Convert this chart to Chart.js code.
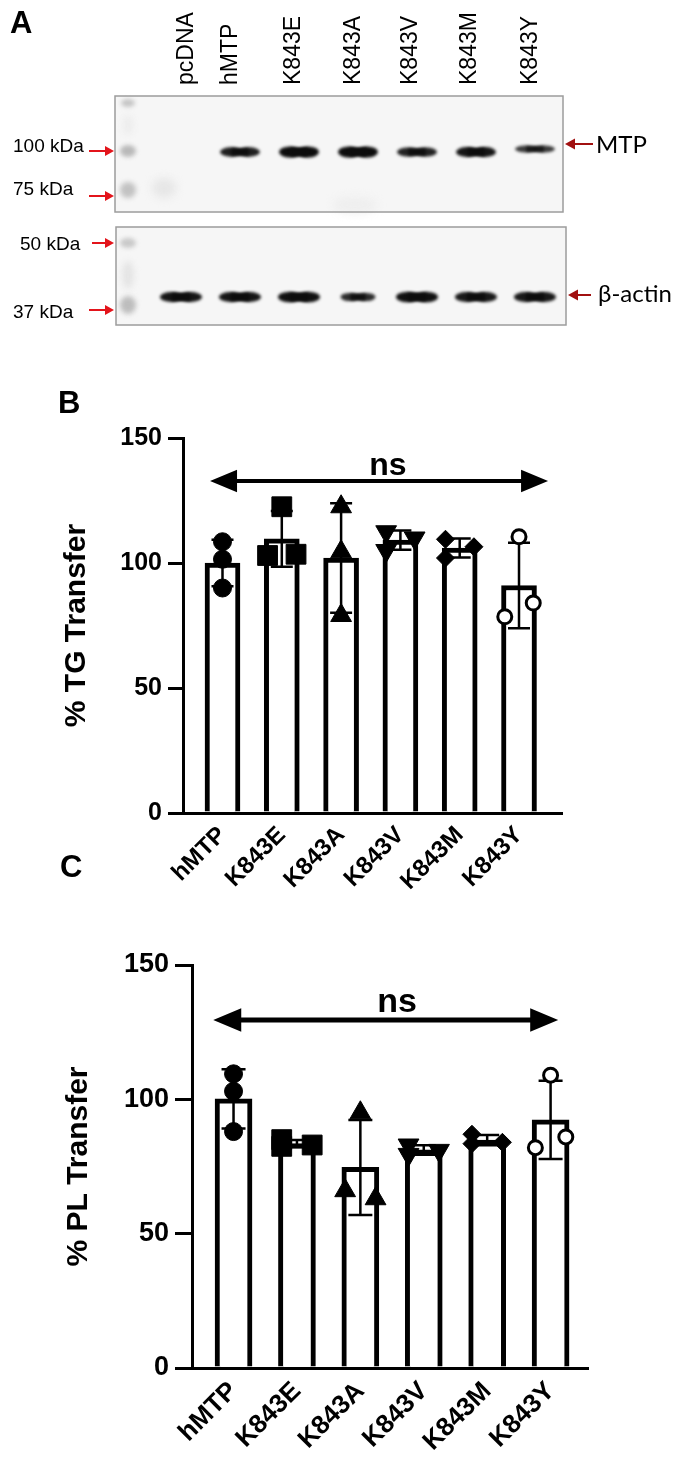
<!DOCTYPE html>
<html>
<head>
<meta charset="utf-8">
<script src="https://cdn.jsdelivr.net/npm/chart.js@4.4.1/dist/chart.umd.min.js"></script>
<style>
  body { margin: 0; background: #fff; }
  #page { position: relative; width: 680px; height: 1478px; overflow: hidden; font-family: "Liberation Sans", Arial, sans-serif; }
  canvas { position: absolute; left: 0; }
  .letter { position: absolute; font-weight: bold; font-size: 31px; line-height: 1; }
</style>
</head>
<body>
<div id="page">
  <canvas id="blot" width="680" height="370" style="top:0"></canvas>
  <canvas id="chartB" width="680" height="540" style="top:380px"></canvas>
  <canvas id="chartC" width="680" height="638" style="top:840px"></canvas>
  <div class="letter" style="left:10px;top:7px">A</div>
  <div class="letter" style="left:58px;top:387px">B</div>
  <div class="letter" style="left:60px;top:851px">C</div>
</div>
<script>
// ---- data ----
const groups = ['hMTP', 'K843E', 'K843A', 'K843V', 'K843M', 'K843Y'];
// % TG transfer, three replicates per construct
const tgTransfer = [
  [108.5, 101.5, 90],
  [122.5, 103, 103.5],
  [122.5, 104.5, 79],
  [112.5, 110, 105],
  [109.5, 106.5, 102],
  [110.5, 78.5, 84]
];
// % PL transfer, three replicates per construct
const plTransfer = [
  [109.5, 103, 88],
  [85, 83, 82.5],
  [95, 66, 63],
  [83, 81, 79.5],
  [87, 84, 83.5],
  [109, 82, 86]
];
const yTicks = [0, 50, 100, 150];

// western blot lanes and relative band strength
const lanes = ['pcDNA', 'hMTP', 'K843E', 'K843A', 'K843V', 'K843M', 'K843Y'];
const mtpSignal = [0, 0.8, 1, 1, 0.75, 0.9, 0.5];
const actinSignal = [0.9, 0.9, 0.95, 0.65, 0.95, 0.85, 0.85];
const markers = ['100 kDa', '75 kDa', '50 kDa', '37 kDa'];

// ---- panel A: the blot ----
const g = document.getElementById('blot').getContext('2d');

function laneX(i) { return 181 + i * 59; }

function smudge(x, y, rx, ry, color, blur) {
  g.save();
  g.filter = 'blur(' + blur + 'px)';
  g.fillStyle = color;
  g.beginPath();
  g.ellipse(x, y, rx, ry, 0, 0, Math.PI * 2);
  g.fill();
  g.restore();
}

function band(cx, cy, w, s) {
  if (s <= 0) return;
  const h = 3 + 8 * s;
  g.save();
  g.filter = 'blur(1.4px)';
  g.fillStyle = 'rgba(12,12,12,' + (0.6 + 0.4 * s) + ')';
  g.beginPath();
  g.ellipse(cx - w * 0.22, cy, w * 0.28, h / 2, 0, 0, Math.PI * 2);
  g.fill();
  g.beginPath();
  g.ellipse(cx + w * 0.22, cy, w * 0.28, h / 2, 0, 0, Math.PI * 2);
  g.fill();
  g.fillRect(cx - w * 0.22, cy - h * 0.38, w * 0.44, h * 0.76);
  g.restore();
}

function redArrow(x1, x2, y, color, head) {
  // arrow from x1 to x2, head at x2
  g.save();
  g.strokeStyle = color;
  g.fillStyle = color;
  g.lineWidth = 2;
  const dir = x2 > x1 ? 1 : -1;
  g.beginPath();
  g.moveTo(x1, y);
  g.lineTo(x2 - dir * head, y);
  g.stroke();
  g.beginPath();
  g.moveTo(x2, y);
  g.lineTo(x2 - dir * head, y - head * 0.55);
  g.lineTo(x2 - dir * head, y + head * 0.55);
  g.closePath();
  g.fill();
  g.restore();
}

function drawBlot() {
  const boxes = [[115, 96, 563, 212], [116, 227, 566, 325]];
  boxes.forEach(b => {
    g.fillStyle = '#f6f6f6';
    g.fillRect(b[0], b[1], b[2] - b[0], b[3] - b[1]);
  });

  // ladder lane
  smudge(128, 103, 7, 4, '#c4c4c4', 2);
  smudge(128, 125, 5, 10, '#ececec', 3);
  smudge(128, 151, 8, 6, '#b9b9b9', 2);
  smudge(128, 190, 8, 8, '#c2c2c2', 2.5);
  smudge(128, 243, 8, 5, '#c9c9c9', 2);
  smudge(128, 275, 6, 14, '#e4e4e4', 3);
  smudge(128, 305, 8, 9, '#bdbdbd', 2.5);
  // faint smear in the empty pcDNA lane
  smudge(164, 188, 12, 10, '#e6e6e6', 4);
  smudge(355, 205, 22, 8, '#eeeeee', 4);

  lanes.forEach((name, i) => {
    band(laneX(i), i === 6 ? 149 : 152, 40, mtpSignal[i]);
    band(laneX(i), 297, i === 3 ? 35 : 42, actinSignal[i]);
  });

  boxes.forEach(b => {
    g.strokeStyle = '#9c9c9c';
    g.lineWidth = 1.5;
    g.strokeRect(b[0], b[1], b[2] - b[0], b[3] - b[1]);
  });

  // lane labels, rotated
  g.fillStyle = '#000';
  g.font = '23px "Liberation Sans", Arial, sans-serif';
  g.textAlign = 'left';
  g.textBaseline = 'middle';
  const labelX = [187, 231, 294, 354, 411, 470, 531];
  lanes.forEach((name, i) => {
    g.save();
    g.translate(labelX[i], 85);
    g.rotate(-Math.PI / 2);
    g.fillText(name, 0, 0);
    g.restore();
  });

  // molecular weight markers
  g.font = '19px "Liberation Sans", Arial, sans-serif';
  g.textBaseline = 'alphabetic';
  const mk = [[13, 152, 89, 151], [13, 195, 89, 196], [20, 250, 92, 243], [13, 318, 89, 310]];
  markers.forEach((t, i) => {
    g.fillStyle = '#000';
    g.fillText(t, mk[i][0], mk[i][1]);
    redArrow(mk[i][2], 114, mk[i][3], '#e3141b', 9);
  });

  // protein labels on the right
  redArrow(593, 565, 144, '#a11010', 10);
  redArrow(591, 568, 295, '#a11010', 10);
  g.fillStyle = '#000';
  g.font = '24px Lato, "Open Sans", sans-serif';
  g.textBaseline = 'middle';
  g.fillText('MTP', 596, 145);
  g.fillText('\u03b2-actin', 598, 294);
}
drawBlot();

// ---- panels B and C ----
function meanOf(a) { return a.reduce((s, v) => s + v, 0) / a.length; }
function sdOf(a) {
  const m = meanOf(a);
  return Math.sqrt(a.reduce((s, v) => s + (v - m) * (v - m), 0) / (a.length - 1));
}
// points that would sit on top of each other are pushed left / right
function spread(vals, near) {
  let side = -1;
  return vals.map((v, i) => {
    const clash = vals.some((w, j) => j !== i && Math.abs(w - v) < near);
    if (!clash) return 0;
    const o = side * 0.24;
    side = -side;
    return o;
  });
}

const symbols = [
  { style: 'circle', r: 9 },
  { style: 'rect', r: 14 },
  { style: 'triangle', r: 12 },
  { style: 'triangle', r: 12, rot: 180 },
  { style: 'rectRot', r: 9 },
  { style: 'circle', r: 7, open: true }
];

function makeChart(id, values, title, geo) {
  const means = values.map(meanOf);
  const sds = values.map(sdOf);
  const font = '"Liberation Sans", Arial, sans-serif';

  const pointSets = values.map((vals, gi) => {
    const off = spread(vals, 6);
    const s = symbols[gi];
    return {
      type: 'scatter',
      data: vals.map((v, k) => ({ x: gi + 1 + off[k], y: v })),
      pointStyle: s.style,
      pointRadius: s.r,
      rotation: s.rot || 0,
      backgroundColor: s.open ? '#fff' : '#000',
      borderColor: '#000',
      borderWidth: s.open ? 3 : 1,
      clip: false,
      order: 0
    };
  });

  const errorBars = {
    id: 'errorBars',
    afterDatasetDraw(chart, args) {
      if (args.meta.type !== 'bar') return;
      const { ctx, scales: { x, y } } = chart;
      ctx.save();
      ctx.strokeStyle = '#000';
      ctx.lineWidth = geo.errWidth;
      means.forEach((m, gi) => {
        const cx = x.getPixelForValue(gi + 1);
        const top = y.getPixelForValue(m + sds[gi]);
        const bot = y.getPixelForValue(m - sds[gi]);
        ctx.beginPath();
        ctx.moveTo(cx, top); ctx.lineTo(cx, bot);
        ctx.moveTo(cx - geo.cap, top); ctx.lineTo(cx + geo.cap, top);
        ctx.moveTo(cx - geo.cap, bot); ctx.lineTo(cx + geo.cap, bot);
        ctx.stroke();
      });
      ctx.restore();
    }
  };

  const nsArrow = {
    id: 'nsArrow',
    afterDraw(chart) {
      const { ctx, scales: { x, y } } = chart;
      const a = geo.ns;
      const x1 = x.getPixelForValue(a.from), x2 = x.getPixelForValue(a.to);
      const yy = y.getPixelForValue(a.y);
      const hl = a.head, hh = a.head * 0.42;
      ctx.save();
      ctx.fillStyle = '#000';
      ctx.strokeStyle = '#000';
      ctx.lineWidth = a.width;
      ctx.beginPath();
      ctx.moveTo(x1 + hl - 2, yy); ctx.lineTo(x2 - hl + 2, yy);
      ctx.stroke();
      ctx.beginPath();
      ctx.moveTo(x1, yy); ctx.lineTo(x1 + hl, yy - hh); ctx.lineTo(x1 + hl, yy + hh); ctx.closePath();
      ctx.moveTo(x2, yy); ctx.lineTo(x2 - hl, yy - hh); ctx.lineTo(x2 - hl, yy + hh); ctx.closePath();
      ctx.fill();
      ctx.font = 'bold ' + a.size + 'px ' + font;
      ctx.textAlign = 'center';
      ctx.textBaseline = 'alphabetic';
      ctx.fillText('ns', x.getPixelForValue(a.textX), yy - a.gap);
      ctx.restore();
    }
  };

  return new Chart(document.getElementById(id), {
    type: 'bar',
    data: {
      datasets: [{
        type: 'bar',
        data: means.map((m, gi) => ({ x: gi + 1, y: m })),
        backgroundColor: '#fff',
        borderColor: '#000',
        borderWidth: geo.barBorder,
        borderSkipped: 'bottom',
        barThickness: geo.barWidth,
        order: 1
      }].concat(pointSets)
    },
    options: {
      responsive: false,
      animation: false,
      events: [],
      layout: { padding: { top: geo.top, left: geo.left, right: geo.right, bottom: 0 } },
      plugins: { legend: { display: false }, tooltip: { enabled: false } },
      scales: {
        x: {
          type: 'linear',
          offset: false,
          min: geo.xmin,
          max: geo.xmax,
          afterBuildTicks: s => { s.ticks = groups.map((c, i) => ({ value: i + 1 })); },
          afterFit: s => { s.height = geo.xHeight; },
          grid: { drawOnChartArea: false, drawTicks: false },
          border: { color: '#000', width: 3 },
          ticks: {
            autoSkip: false,
            minRotation: 45,
            maxRotation: 45,
            padding: geo.xPad,
            color: '#000',
            font: { family: font, weight: 'bold', size: geo.xFont },
            callback: v => groups[v - 1]
          }
        },
        y: {
          min: 0,
          max: 150,
          afterBuildTicks: s => { s.ticks = yTicks.map(v => ({ value: v })); },
          afterFit: s => { s.width = geo.yWidth; },
          grid: { drawOnChartArea: false, drawTicks: true, tickLength: geo.tick, color: '#000', lineWidth: 3 },
          border: { color: '#000', width: 3 },
          ticks: { padding: 6, color: '#000', font: { family: font, weight: 'bold', size: geo.yFont } },
          title: {
            display: true,
            text: title,
            color: '#000',
            padding: { top: 4, bottom: 0 },
            font: { family: font, weight: 'bold', size: 30 }
          }
        }
      }
    },
    plugins: [errorBars, nsArrow]
  });
}

makeChart('chartB', tgTransfer, '% TG Transfer', {
  top: 58, left: 55, right: 118, yWidth: 128, xHeight: 107,
  xmin: 0.334, xmax: 6.725, xFont: 24, yFont: 25, xPad: 8, tick: 15,
  barWidth: 35, barBorder: 5, errWidth: 2.5, cap: 11,
  ns: { from: 0.79, to: 6.49, y: 132.8, textX: 3.79, width: 4, head: 27, size: 32, gap: 6 }
});

makeChart('chartC', plTransfer, '% PL Transfer', {
  top: 125, left: 57, right: 92, yWidth: 135, xHeight: 110,
  xmin: 0.345, xmax: 6.59, xFont: 26, yFont: 27, xPad: 8, tick: 17,
  barWidth: 37, barBorder: 5, errWidth: 2.5, cap: 12,
  ns: { from: 0.68, to: 6.12, y: 129.5, textX: 3.58, width: 5, head: 28, size: 34, gap: 8 }
});
</script>
</body>
</html>
